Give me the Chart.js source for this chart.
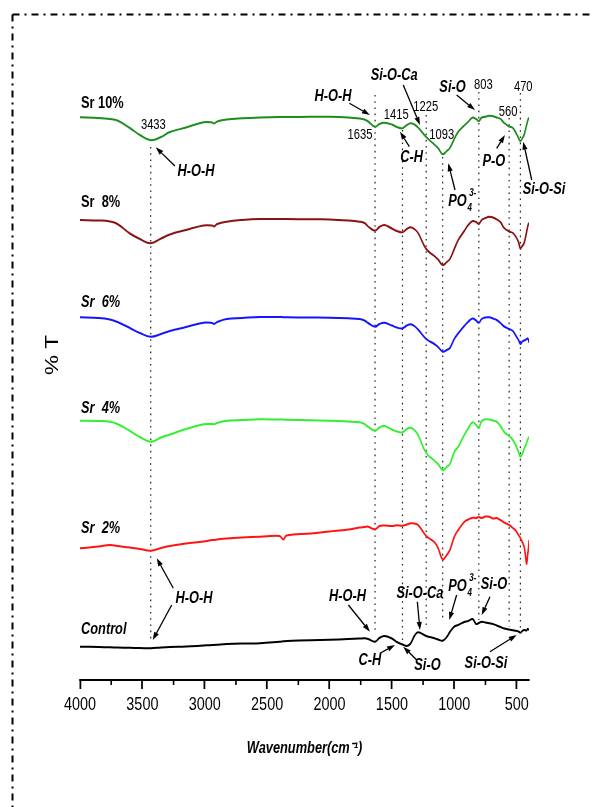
<!DOCTYPE html>
<html>
<head>
<meta charset="utf-8">
<title>FTIR spectra</title>
<script src="https://cdn.jsdelivr.net/npm/chart.js@4.4.1/dist/chart.umd.min.js"></script>
<style>
  html, body { margin: 0; padding: 0; background: #fff; }
  #wrap { width: 592px; height: 807px; overflow: hidden; position: relative; background: #fff; }
  canvas { display: block; }
</style>
</head>
<body>
<div id="wrap"><canvas id="ftir" width="740" height="807"></canvas></div>
<script>
// ---- data -------------------------------------------------------------
const WAVENUMBERS = [4000, 3850, 3760, 3700, 3600, 3520, 3433, 3350, 3280, 3150,
  3010, 2940, 2925, 2900, 2824, 2700, 2557, 2400, 2370, 2345,
  2150, 2000, 1850, 1760, 1720, 1690, 1635, 1600, 1560, 1500,
  1460, 1415, 1380, 1350, 1320, 1290, 1225, 1160, 1130, 1093,
  1060, 1035, 1000, 968, 920, 888, 853, 825, 803, 780,
  750, 720, 690, 660, 630, 600, 560, 530, 505, 485,
  470, 455, 440, 430, 420, 412, 405, 400];

const SR10 = [56.27, 56.2, 56.1, 55.95, 55.2, 54.5, 53.97, 54.3, 54.8, 55.25,
  55.77, 55.75, 55.65, 55.85, 56.05, 56.17, 56.25, 56.3, 56.3, 56.3,
  56.32, 56.32, 56.25, 56.15, 56.05, 55.85, 55.33, 55.6, 55.73, 55.55,
  55.3, 55.17, 55.5, 55.67, 55.55, 55.25, 54.3, 53.55, 53.2, 52.57,
  52.9, 53.2, 54.1, 54.83, 55.45, 55.83, 56.25, 56.1, 55.9, 56.25,
  56.33, 56.43, 56.38, 56.25, 56.12, 55.7, 55.35, 55.2, 54.7, 54.2,
  53.9, 54.15, 54.5, 55.0, 55.5, 55.9, 56.15, 56.25];

const SR8 = [46.0, 45.95, 45.85, 45.6, 44.65, 44.1, 43.67, 44.15, 44.55, 45.0,
  45.45, 45.45, 45.35, 45.6, 45.83, 46.0, 46.1, 46.1, 46.1, 46.1,
  46.07, 46.06, 45.95, 45.83, 45.7, 45.35, 44.93, 45.3, 45.5, 45.15,
  44.9, 44.77, 45.1, 45.27, 45.1, 44.7, 43.1, 42.4, 42.05, 41.5,
  41.8, 42.1, 43.1, 44.0, 44.9, 45.5, 45.9, 45.8, 45.6, 46.0,
  46.2, 46.33, 46.25, 46.07, 45.8, 45.2, 44.85, 44.7, 44.3, 43.8,
  43.17, 43.4, 43.7, 44.2, 44.8, 45.3, 45.6, 45.73];

const SR6 = [36.27, 36.2, 36.05, 35.8, 35.2, 34.7, 34.33, 34.6, 34.9, 35.3,
  35.73, 35.7, 35.6, 35.8, 36.1, 36.2, 36.3, 36.3, 36.28, 36.27,
  36.25, 36.23, 36.17, 36.1, 35.95, 35.7, 35.33, 35.6, 35.73, 35.45,
  35.25, 35.17, 35.45, 35.57, 35.4, 35.05, 34.1, 33.6, 33.3, 32.83,
  33.0, 33.2, 34.1, 34.67, 35.4, 35.83, 36.15, 35.95, 35.73, 36.1,
  36.25, 36.27, 36.15, 36.0, 35.7, 35.35, 35.1, 34.9, 34.4, 34.0,
  33.6, 33.85, 33.95, 34.0, 34.1, 34.15, 34.0, 33.73];

const SR4 = [25.93, 25.9, 25.83, 25.6, 24.9, 24.3, 23.83, 24.25, 24.55, 25.1,
  25.57, 25.6, 25.57, 25.7, 25.93, 26.0, 26.07, 26.05, 26.04, 26.03,
  25.97, 25.93, 25.85, 25.77, 25.6, 25.3, 24.93, 25.25, 25.4, 25.05,
  24.85, 24.77, 25.1, 25.23, 25.0, 24.5, 22.7, 21.95, 21.6, 21.0,
  21.3, 21.6, 22.8, 23.33, 24.5, 25.17, 25.77, 25.5, 25.23, 25.9,
  26.07, 26.05, 25.95, 25.83, 25.4, 24.8, 24.4, 24.0, 23.4, 22.8,
  22.33, 22.6, 23.1, 23.4, 23.7, 24.0, 24.2, 24.33];

const SR2 = [13.17, 13.35, 13.5, 13.4, 13.25, 13.1, 12.93, 13.2, 13.4, 13.65,
  13.85, 14.0, 14.0, 14.05, 14.15, 14.25, 14.33, 14.4, 14.05, 14.45,
  14.65, 14.85, 15.05, 15.25, 15.3, 15.33, 15.07, 15.4, 15.45, 15.4,
  15.47, 15.42, 15.55, 15.67, 15.65, 15.5, 14.4, 13.8, 13.2, 12.07,
  12.5, 13.0, 14.3, 15.0, 15.8, 16.05, 16.23, 16.2, 16.3, 16.2,
  16.35, 16.33, 16.15, 16.2, 16.0, 15.75, 15.5, 15.2, 14.9, 14.5,
  14.2, 13.8, 13.33, 12.5, 11.6, 12.5, 13.2, 14.0];

const CONTROL = [3.33, 3.3, 3.27, 3.25, 3.22, 3.2, 3.17, 3.25, 3.3, 3.35,
  3.45, 3.5, 3.5, 3.53, 3.6, 3.65, 3.67, 3.83, 3.87, 3.9,
  3.97, 4.02, 4.1, 4.14, 4.17, 4.1, 3.83, 4.2, 4.4, 4.15,
  3.8, 3.55, 3.4, 3.65, 4.4, 4.77, 4.4, 4.18, 4.05, 3.93,
  4.3, 4.8, 5.33, 5.5, 5.8, 5.9, 6.1, 5.6, 5.7, 5.83,
  5.75, 5.67, 5.6, 5.45, 5.3, 5.15, 5.05, 4.98, 4.93, 4.85,
  4.73, 4.9, 5.0, 4.97, 4.95, 5.12, 5.05, 5.0];

const SERIES_NAMES = ['Sr 10%', 'Sr  8%', 'Sr  6%', 'Sr  4%', 'Sr  2%', 'Control'];
const SERIES_VALUES = [SR10, SR8, SR6, SR4, SR2, CONTROL];

// assigned band positions (cm-1) and the extent of their guide lines (%T units)
const BAND_WN = [3433, 1635, 1415, 1225, 1093, 803, 560, 470];
const BAND_TOP = [53.3, 58.5, 55.0, 56.5, 52.3, 58.8, 56.2, 58.7];
const BAND_BOTTOM = [4.0, 4.8, 3.5, 5.2, 6.2, 6.0, 5.3, 5.0];

const X_TICKS = [4000, 3500, 3000, 2500, 2000, 1500, 1000, 500];
const X_MINOR = [3750, 3250, 2750, 2250, 1750, 1250, 750];

// ---- styling ----------------------------------------------------------
const S = 0.8; // horizontal compression applied to the whole drawing
const NARROW = "'Liberation Sans Narrow', 'Arial Narrow', 'Liberation Sans', Arial, sans-serif";
const PLAIN = "'Liberation Sans', Arial, sans-serif";
const SERIES_COLORS = ['#1f8c1f', '#8a1212', '#1414ff', '#2ff02f', '#ff1414', '#000000'];
const NAME_Y = [57.67, 47.7, 37.73, 27.17, 15.17, 5.0];
const NAME_ITALIC = [false, false, true, true, true, true];

// band wavenumber captions: [band index, wn, %T]
const BAND_CAPTIONS = [[0, 3412, 55.53], [1, 1756, 54.5], [2, 1465, 56.5], [3, 1228, 57.25],
  [4, 1101, 54.53], [5, 767, 59.5], [6, 569, 56.83], [7, 447, 59.3]];

// group assignments: [text, wn, %T]
const GROUPS = [
  ['H-O-H', 3070, 50.83], ['H-O-H', 1972, 58.33], ['Si-O-Ca', 1482, 60.42], ['C-H', 1341, 52.25],
  ['PO4', 974, 47.83], ['Si-O', 1014, 59.25], ['P-O', 682, 51.83], ['Si-O-Si', 281, 49.0],
  ['H-O-H', 3086, 8.1], ['H-O-H', 1856, 8.33], ['Si-O-Ca', 1275, 8.6], ['PO4', 974, 9.33],
  ['Si-O', 682, 9.5], ['C-H', 1676, 1.92], ['Si-O', 1215, 1.42], ['Si-O-Si', 746, 1.6]
];

// pointer arrows: [wn from, %T from, wn to, %T to]
const ARROWS = [
  [3239, 51.4, 3393, 53.27], [1841, 57.67, 1676, 56.5], [1409, 59.5, 1275, 55.5],
  [1360, 53.33, 1435, 54.83], [994, 49.0, 1048, 51.67], [981, 58.5, 834, 57.0],
  [660, 53.17, 594, 54.5], [379, 50.0, 447, 53.83],
  [3252, 9.17, 3385, 12.17], [3265, 7.5, 3417, 4.0], [1849, 7.5, 1676, 4.83],
  [1296, 7.83, 1275, 5.0], [981, 8.5, 1040, 6.0], [714, 8.33, 780, 6.5],
  [1595, 2.67, 1475, 3.5], [1301, 2.0, 1409, 3.33], [714, 2.83, 500, 4.5]
];

// ---- datasets ---------------------------------------------------------
const datasets = [];
SERIES_VALUES.forEach((vals, i) => {
  datasets.push({
    label: SERIES_NAMES[i],
    data: WAVENUMBERS.map((w, k) => ({ x: w, y: vals[k] })),
    borderColor: SERIES_COLORS[i],
    borderWidth: 2,
    pointRadius: 0,
    fill: false,
    tension: 0.4
  });
});
BAND_WN.forEach((w, i) => {
  datasets.push({
    label: 'band ' + w,
    data: [{ x: w, y: BAND_TOP[i] }, { x: w, y: BAND_BOTTOM[i] }],
    borderColor: '#222',
    borderWidth: 1.5,
    borderDash: [1.6, 4.6],
    pointRadius: 0,
    fill: false
  });
});

// ---- drawing helpers --------------------------------------------------
function label(ctx, text, px, py, size, bold, italic, align) {
  ctx.font = (italic ? 'italic ' : '') + (bold ? 'bold ' : '') + size + 'px ' + NARROW;
  ctx.textAlign = align || 'center';
  ctx.textBaseline = 'middle';
  ctx.fillStyle = '#000';
  ctx.fillText(text, px, py);
}

function phosphate(ctx, px, py) {
  ctx.font = 'italic bold 16px ' + NARROW;
  const w = ctx.measureText('PO').width;
  ctx.textAlign = 'left';
  ctx.textBaseline = 'middle';
  ctx.fillStyle = '#000';
  ctx.fillText('PO', px - w / 2, py);
  ctx.font = 'italic bold 10px ' + NARROW;
  ctx.fillText('4', px + w / 2 + 1, py + 7);
  ctx.fillText('3-', px + w / 2 + 3, py - 8);
}

function arrow(ctx, x1, y1, x2, y2) {
  const a = Math.atan2(y2 - y1, x2 - x1);
  const L = 8, W = 2.6;
  const bx = x2 - L * Math.cos(a), by = y2 - L * Math.sin(a);
  ctx.strokeStyle = '#000';
  ctx.fillStyle = '#000';
  ctx.lineWidth = 1.3;
  ctx.beginPath();
  ctx.moveTo(x1, y1);
  ctx.lineTo(bx, by);
  ctx.stroke();
  ctx.beginPath();
  ctx.moveTo(x2, y2);
  ctx.lineTo(bx + W * Math.sin(a), by - W * Math.cos(a));
  ctx.lineTo(bx - W * Math.sin(a), by + W * Math.cos(a));
  ctx.closePath();
  ctx.fill();
}

const annotate = {
  id: 'annotate',
  beforeDraw(chart) {
    chart.ctx.save();
    chart.ctx.scale(S, 1);
  },
  afterDraw(chart) {
    const ctx = chart.ctx;
    const xs = chart.scales.x, ys = chart.scales.y;
    const X = (w) => xs.getPixelForValue(w);
    const Y = (v) => ys.getPixelForValue(v);

    // series names
    SERIES_NAMES.forEach((n, i) => label(ctx, n, X(3992), Y(NAME_Y[i]), 16, true, NAME_ITALIC[i], 'left'));
    // band positions
    BAND_CAPTIONS.forEach(([i, w, v]) => label(ctx, String(BAND_WN[i]), X(w), Y(v), 14, false, false));
    // group assignments
    GROUPS.forEach(([t, w, v]) => {
      if (t === 'PO4') phosphate(ctx, X(w), Y(v));
      else label(ctx, t, X(w), Y(v), 16, true, true);
    });
    ctx.restore();

    // arrows and minor ticks in unscaled space
    ARROWS.forEach(([w1, v1, w2, v2]) => arrow(ctx, X(w1) * S, Y(v1), X(w2) * S, Y(v2)));
    const yb = chart.chartArea.bottom;
    ctx.strokeStyle = '#000';
    ctx.lineWidth = 1.6;
    X_MINOR.forEach((w) => {
      const px = X(w) * S;
      ctx.beginPath();
      ctx.moveTo(px, yb);
      ctx.lineTo(px, yb + 5);
      ctx.stroke();
    });

    // dash-dot frame
    ctx.save();
    ctx.strokeStyle = '#000';
    ctx.lineWidth = 2;
    ctx.setLineDash([7, 5, 2, 5]);
    ctx.beginPath();
    ctx.moveTo(12.5, 14.5);
    ctx.lineTo(600, 14.5);
    ctx.moveTo(12.5, 14.5);
    ctx.lineTo(12.5, 820);
    ctx.stroke();
    ctx.restore();
  }
};

new Chart(document.getElementById('ftir'), {
  type: 'line',
  data: { datasets },
  plugins: [annotate],
  options: {
    responsive: false,
    devicePixelRatio: 1,
    animation: false,
    events: [],
    layout: { padding: { top: 30, left: 40, right: 78.6, bottom: 0 } },
    plugins: { legend: { display: false }, tooltip: { enabled: false } },
    scales: {
      x: {
        type: 'linear',
        reverse: true,
        min: 400,
        max: 4000,
        afterFit: (s) => { s.height = 127; },
        afterBuildTicks: (s) => { s.ticks = X_TICKS.map((v) => ({ value: v })); },
        border: { display: true, color: '#000', width: 2 },
        grid: { display: true, drawOnChartArea: false, drawTicks: true, tickLength: 9, tickColor: '#000', tickWidth: 2.2 },
        ticks: { color: '#000', font: { family: NARROW, size: 18 }, padding: 5, maxRotation: 0, callback: (v) => String(v) },
        title: {
          display: true,
          text: 'Wavenumber(cm\u207B\u00B9)',
          color: '#000',
          font: { family: NARROW, size: 16, weight: 'bold', style: 'italic' },
          padding: { top: 0, bottom: 49 }
        }
      },
      y: {
        type: 'linear',
        min: 0,
        max: 65,
        afterFit: (s) => { s.width = 60; },
        border: { display: false },
        grid: { display: false },
        ticks: { display: false },
        title: {
          display: true,
          text: '% T',
          color: '#000',
          font: { family: PLAIN, size: 22.5, weight: 'normal' },
          padding: { top: 13, bottom: 0 }
        }
      }
    }
  }
});
</script>
</body>
</html>
